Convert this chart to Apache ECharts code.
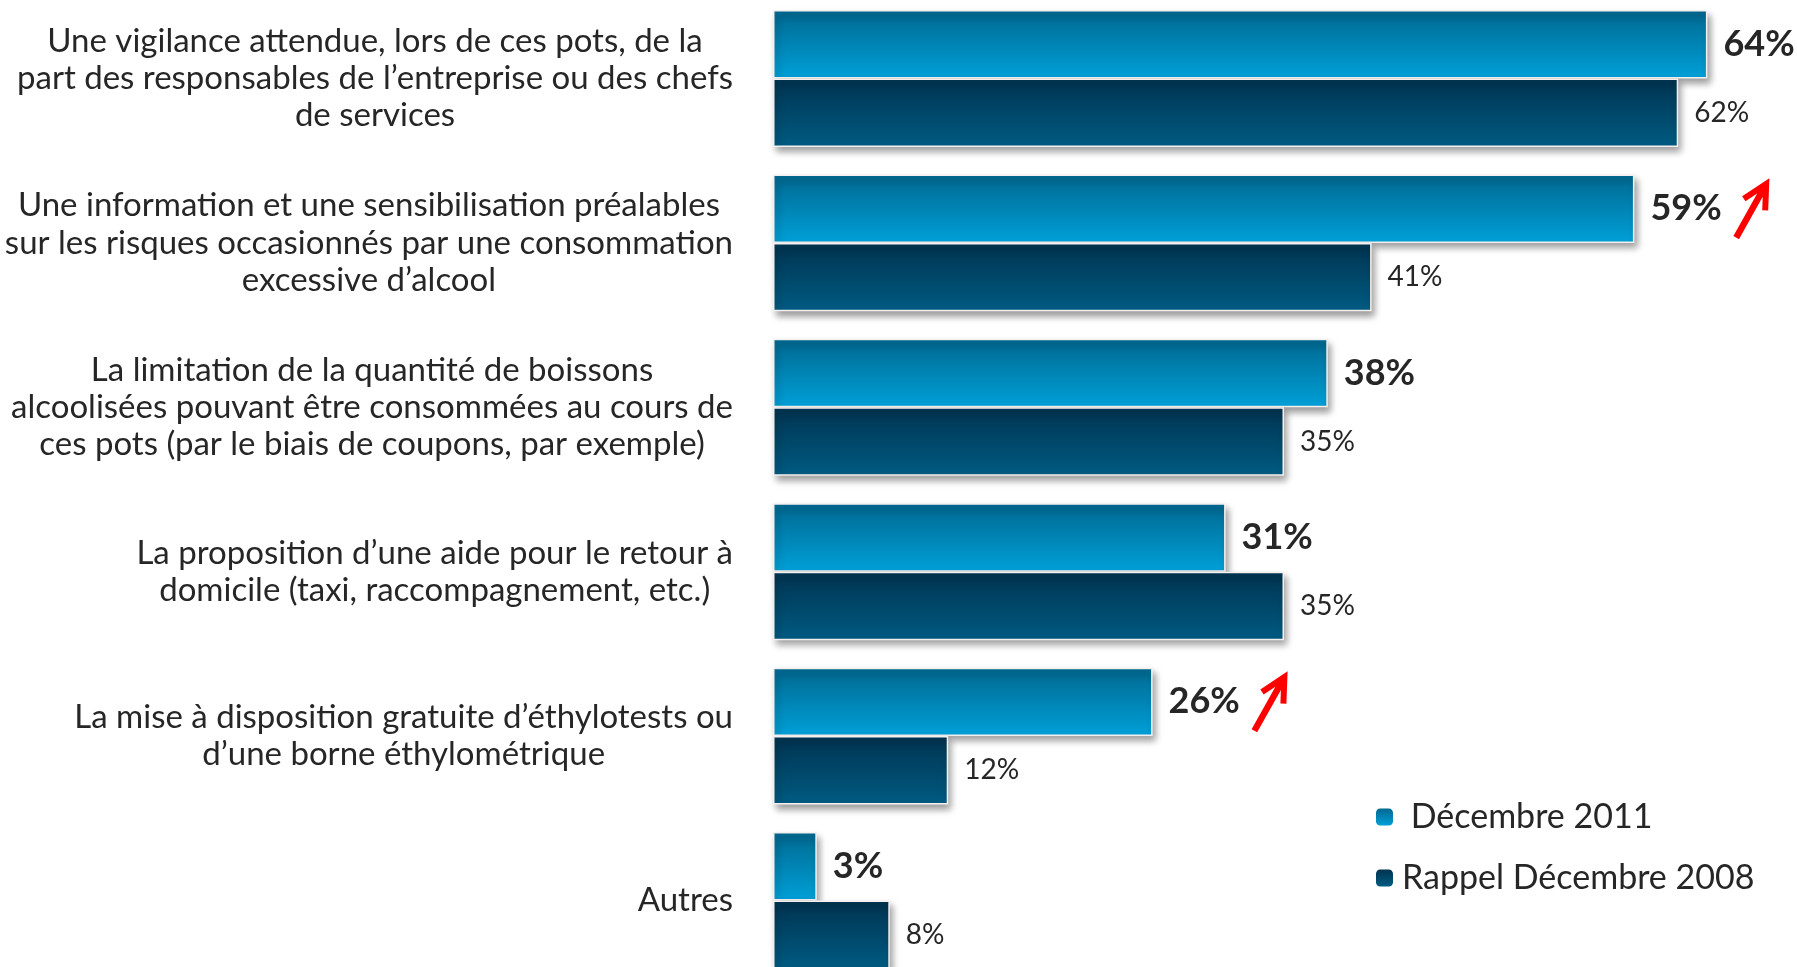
<!DOCTYPE html>
<html>
<head>
<meta charset="utf-8">
<script src="https://cdn.jsdelivr.net/npm/echarts@6/dist/echarts.min.js"></script>
<style>
  html, body { margin: 0; padding: 0; background: #fff; }
  #chart { width: 1797px; height: 967px; }
</style>
</head>
<body>
<div id="chart"></div>
<script>
// categories, top to bottom
const categories = [
  "Une vigilance attendue, lors de ces pots, de la\npart des responsables de l’entreprise ou des chefs\nde services",
  "Une information et une sensibilisation préalables\nsur les risques occasionnés par une consommation\nexcessive d’alcool",
  "La limitation de la quantité de boissons\nalcoolisées pouvant être consommées au cours de\nces pots (par le biais de coupons, par exemple)",
  "La proposition d’une aide pour le retour à\ndomicile (taxi, raccompagnement, etc.)",
  "La mise à disposition gratuite d’éthylotests ou\nd’une borne éthylométrique",
  "Autres"
];
const dec2011 = [64, 59, 38, 31, 26, 3];
const dec2008 = [62, 41, 35, 35, 12, 8];
// categories marked with a red arrow (hausse)
const risingIdx = [1, 4];

const FONT = "Lato, 'Open Sans', sans-serif";
const TEXT = "#262626";

// fleche rouge (trait epais + pointe ouverte)
const arrowPath = "path://M0.2 55.44 L24 12.64 L12.27 20.49 L8.93 15.51 L36.2 -2.76 L35 29.8 L29 29.6 L29.51 15.93 L5.8 58.56 Z";

function grad(top, bottom) {
  return new echarts.graphic.LinearGradient(0, 0, 0, 1, [
    { offset: 0, color: top },
    { offset: 1, color: bottom },
  ]);
}

const barShadow = {
  borderColor: "#f4f0f0",
  borderWidth: 1.5,
  shadowColor: "rgba(0, 0, 0, 0.4)",
  shadowBlur: 7,
  shadowOffsetX: 3,
  shadowOffsetY: 5,
};

const myChart = echarts.init(document.getElementById("chart"));

const option = {
  animation: false,
  textStyle: { fontFamily: FONT },
  grid: {
    left: 773,
    top: -3.7,
    width: 1022,
    height: 986.4,
    containLabel: false,
    outerBoundsMode: "none",
  },
  legend: {
    orient: "vertical",
    left: 1371,
    top: 792,
    itemWidth: 17,
    itemHeight: 17,
    itemGap: 21,
    selectedMode: false,
    formatter: function (name) {
      // petit retrait sur la premiere entree, comme l'original
      return name === "Décembre 2011" ? " " + name : name;
    },
    textStyle: {
      fontFamily: FONT,
      fontSize: 34,
      color: TEXT,
      lineHeight: 40,
      padding: [0, 0, 0, 4],
    },
    itemStyle: { shadowBlur: 0, borderWidth: 0 },
    data: ["Décembre 2011", "Rappel Décembre 2008"],
  },
  xAxis: {
    type: "value",
    min: 0,
    max: 70,
    show: false,
  },
  yAxis: {
    type: "category",
    inverse: true,
    data: categories,
    axisLine: { show: false },
    axisTick: { show: false },
    splitLine: { show: false },
    axisLabel: {
      margin: 40,
      align: "right",
      formatter: function (value) {
        return value
          .split("\n")
          .map(function (l) { return "{c|" + l + "}"; })
          .join("\n");
      },
      rich: {
        c: {
          align: "center",
          fontFamily: FONT,
          fontSize: 33,
          lineHeight: 37.3,
          color: TEXT,
        },
      },
    },
  },
  series: [
    {
      name: "Décembre 2011",
      type: "bar",
      data: dec2011,
      barGap: "0%",
      barCategoryGap: "16.7%",
      itemStyle: Object.assign({ color: grad("#006890", "#00a0d8") }, barShadow),
      label: {
        show: true,
        position: "right",
        distance: 16,
        formatter: "{c}%",
        fontFamily: FONT,
        fontWeight: "bold",
        fontSize: 36,
        color: TEXT,
      },
      markPoint: {
        symbol: arrowPath,
        symbolSize: [36, 61],
        symbolKeepAspect: false,
        symbolOffset: [117, 0],
        label: { show: false },
        itemStyle: { color: "#ff0000", shadowBlur: 0, borderWidth: 0 },
        data: risingIdx.map(function (i) {
          return { coord: [dec2011[i], i] };
        }),
      },
    },
    {
      name: "Rappel Décembre 2008",
      type: "bar",
      data: dec2008,
      barGap: "0%",
      barCategoryGap: "16.7%",
      itemStyle: Object.assign({ color: grad("#003350", "#005b82") }, barShadow),
      label: {
        show: true,
        position: "right",
        distance: 16,
        formatter: "{c}%",
        fontFamily: FONT,
        fontSize: 28,
        color: TEXT,
      },
    },
  ],
};

myChart.setOption(option);
</script>
</body>
</html>
